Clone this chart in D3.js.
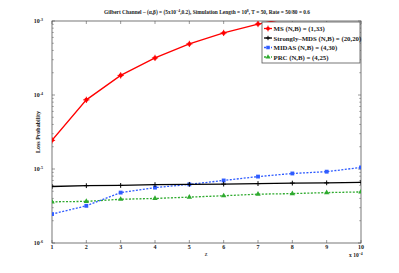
<!DOCTYPE html>
<html>
<head>
<meta charset="utf-8">
<script src="https://cdn.jsdelivr.net/npm/d3@7"></script>
<style>
  body { margin: 0; background: #fff; }
  svg { font-family: "Liberation Serif", "DejaVu Serif", serif; }
</style>
</head>
<body>
<div id="chart"></div>
<script>
// z values (x 10^-4)
var zs = [1, 2, 3, 4, 5, 6, 7, 8, 9, 10];

var ms_vals = [2.44e-5, 8.6e-5, 1.84e-4, 3.17e-4, 4.9e-4, 6.9e-4, 9.1e-4, 1.12e-3, 1.33e-3, 1.55e-3];
var smds_vals = [5.8e-6, 5.95e-6, 6.0e-6, 6.15e-6, 6.2e-6, 6.25e-6, 6.35e-6, 6.45e-6, 6.5e-6, 6.6e-6];
var midas_vals = [2.46e-6, 3.18e-6, 4.8e-6, 5.6e-6, 6.2e-6, 7.0e-6, 7.9e-6, 8.7e-6, 9.2e-6, 1.05e-5];
var prc_vals = [3.6e-6, 3.65e-6, 3.9e-6, 4.0e-6, 4.17e-6, 4.35e-6, 4.57e-6, 4.65e-6, 4.8e-6, 4.9e-6];

var series_names = ['MS (N,B) = (1,33)', 'Strongly\u2013MDS (N,B) = (20,20)', 'MIDAS (N,B) = (4,30)', 'PRC (N,B) = (4,25)'];
var series_colors = ['#ff0000', '#000000', '#2f5cff', '#2eaa2e'];
var series_marks = ['circle', 'plus', 'square', 'triangle'];
var series_dash = [null, null, '2,1.5', '2,1.5'];
var all_vals = [ms_vals, smds_vals, midas_vals, prc_vals];

var y_exps = [-6, -5, -4, -3];

var width = 399, height = 273;
var p_left = 52, p_right = 361, p_top = 21, p_bottom = 243;

var svg = d3.select('#chart').append('svg')
    .attr('width', width)
    .attr('height', height);

var x = d3.scaleLinear().domain([1, 10]).range([p_left, p_right]);
var y = d3.scaleLog().domain([1e-6, 1e-3]).range([p_bottom, p_top]);

var axisColor = '#555';

// frame
svg.append('rect')
    .attr('x', p_left).attr('y', p_top)
    .attr('width', p_right - p_left).attr('height', p_bottom - p_top)
    .attr('fill', 'none').attr('stroke', axisColor).attr('stroke-width', 0.8);

// x ticks, bottom and top, pointing inside
zs.forEach(function(d) {
    svg.append('line').attr('x1', x(d)).attr('x2', x(d)).attr('y1', p_bottom).attr('y2', p_bottom - 3)
        .attr('stroke', axisColor).attr('stroke-width', 0.6);
    svg.append('line').attr('x1', x(d)).attr('x2', x(d)).attr('y1', p_top).attr('y2', p_top + 3)
        .attr('stroke', axisColor).attr('stroke-width', 0.6);
    svg.append('text').attr('x', x(d)).attr('y', p_bottom + 6)
        .attr('text-anchor', 'middle').attr('font-size', 6).attr('font-weight', 'bold').attr('fill', '#222')
        .text(d);
});

// y ticks (major + minor)
var minor = [];
for (var e = -6; e < -3; e++) {
    for (var m = 2; m <= 9; m++) minor.push(m * Math.pow(10, e));
}
minor.forEach(function(v) {
    svg.append('line').attr('x1', p_left).attr('x2', p_left + 1.8).attr('y1', y(v)).attr('y2', y(v))
        .attr('stroke', axisColor).attr('stroke-width', 0.5);
    svg.append('line').attr('x1', p_right).attr('x2', p_right - 1.8).attr('y1', y(v)).attr('y2', y(v))
        .attr('stroke', axisColor).attr('stroke-width', 0.5);
});
y_exps.forEach(function(e) {
    var v = Math.pow(10, e);
    svg.append('line').attr('x1', p_left).attr('x2', p_left + 3).attr('y1', y(v)).attr('y2', y(v))
        .attr('stroke', axisColor).attr('stroke-width', 0.6);
    svg.append('line').attr('x1', p_right).attr('x2', p_right - 3).attr('y1', y(v)).attr('y2', y(v))
        .attr('stroke', axisColor).attr('stroke-width', 0.6);
    var t = svg.append('text').attr('x', p_left - 9).attr('y', y(v) + 2)
        .attr('text-anchor', 'end').attr('font-size', 6).attr('font-weight', 'bold').attr('fill', '#222');
    t.append('tspan').text('10');
    t.append('tspan').attr('font-size', 4).attr('dy', -2.5).text(e);
});

// title
var title = svg.append('text').attr('x', 207).attr('y', 14)
    .attr('text-anchor', 'middle').attr('font-size', 5.4).attr('font-weight', 'bold').attr('fill', '#222');
title.append('tspan').text('Gilbert Channel \u2013 (\u03b1,\u03b2) = (5x10');
title.append('tspan').attr('font-size', 3.8).attr('dy', -2).text('\u22124');
title.append('tspan').attr('dy', 2).text(',0.2), Simulation Length = 10');
title.append('tspan').attr('font-size', 3.8).attr('dy', -2).text('8');
title.append('tspan').attr('dy', 2).text(', T = 50, Rate = 50/80 = 0.6');

// axis labels
svg.append('text').attr('x', 206).attr('y', 256)
    .attr('text-anchor', 'middle').attr('font-size', 6).attr('fill', '#222').text('z');
var xm = svg.append('text').attr('x', 349).attr('y', 257)
    .attr('font-size', 5.5).attr('font-weight', 'bold').attr('fill', '#222');
xm.append('tspan').text('x 10');
xm.append('tspan').attr('font-size', 3.8).attr('dy', -2.5).text('\u22124');
svg.append('text')
    .attr('transform', 'translate(40,132) rotate(-90)')
    .attr('text-anchor', 'middle').attr('font-size', 6).attr('font-weight', 'bold').attr('fill', '#222')
    .text('Loss Probability');

// clip
svg.append('clipPath').attr('id', 'plotclip')
    .append('rect').attr('x', p_left).attr('y', p_top).attr('width', p_right - p_left).attr('height', p_bottom - p_top);

function drawMarker(g, kind, cx, cy, color, s) {
    if (kind == 'circle') {
        g.append('circle').attr('cx', cx).attr('cy', cy).attr('r', s * 0.85).attr('fill', color);
        g.append('line').attr('x1', cx - s * 1.3).attr('x2', cx + s * 1.3).attr('y1', cy).attr('y2', cy)
            .attr('stroke', color).attr('stroke-width', 1);
        g.append('line').attr('x1', cx).attr('x2', cx).attr('y1', cy - s * 1.3).attr('y2', cy + s * 1.3)
            .attr('stroke', color).attr('stroke-width', 1);
    } else if (kind == 'plus') {
        g.append('line').attr('x1', cx - s).attr('x2', cx + s).attr('y1', cy).attr('y2', cy)
            .attr('stroke', color).attr('stroke-width', 1);
        g.append('line').attr('x1', cx).attr('x2', cx).attr('y1', cy - s).attr('y2', cy + s)
            .attr('stroke', color).attr('stroke-width', 1);
    } else if (kind == 'square') {
        g.append('rect').attr('x', cx - s * 0.8).attr('y', cy - s * 0.8)
            .attr('width', s * 1.6).attr('height', s * 1.6).attr('fill', color);
    } else if (kind == 'triangle') {
        g.append('path').attr('d', d3.symbol().type(d3.symbolTriangle).size(s * s * 2.2)())
            .attr('transform', 'translate(' + cx + ',' + cy + ')').attr('fill', color);
    }
}

var plot = svg.append('g').attr('clip-path', 'url(#plotclip)');
var line = d3.line()
    .x(function(d, i) { return x(zs[i]); })
    .y(function(d) { return y(d); });

// draw back-to-front so red is on top
[3, 2, 1, 0].forEach(function(k) {
    plot.append('path').datum(all_vals[k])
        .attr('d', line)
        .attr('fill', 'none')
        .attr('stroke', series_colors[k])
        .attr('stroke-width', 1.3)
        .attr('stroke-dasharray', series_dash[k]);
    all_vals[k].forEach(function(v, i) {
        drawMarker(plot, series_marks[k], x(zs[i]), y(v), series_colors[k], 2.4);
    });
});

// legend
var lg = svg.append('g');
lg.append('rect').attr('x', 262).attr('y', 22).attr('width', 98).attr('height', 41)
    .attr('fill', '#fff').attr('stroke', axisColor).attr('stroke-width', 0.8);
series_names.forEach(function(name, k) {
    var ly = 28.5 + k * 9.5;
    lg.append('line').attr('x1', 264).attr('x2', 272).attr('y1', ly).attr('y2', ly)
        .attr('stroke', series_colors[k]).attr('stroke-width', 1.3)
        .attr('stroke-dasharray', series_dash[k]);
    drawMarker(lg, series_marks[k], 268, ly, series_colors[k], 2.2);
    lg.append('text').attr('x', 273.5).attr('y', ly + 2.5)
        .attr('font-size', 6.8).attr('font-weight', 'bold').attr('fill', '#222')
        .text(name);
});
</script>
</body>
</html>
